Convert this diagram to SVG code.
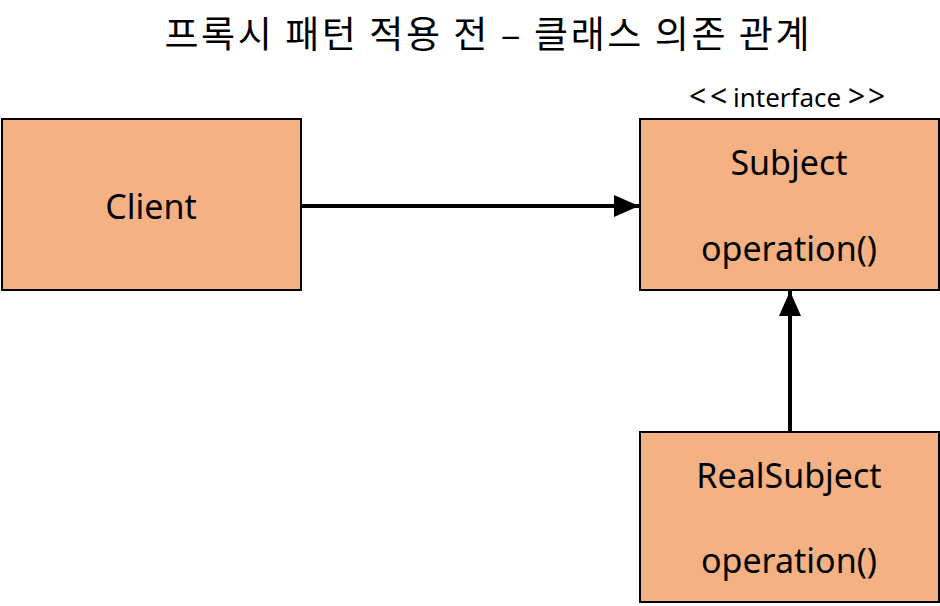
<svg xmlns="http://www.w3.org/2000/svg" width="940" height="606" viewBox="0 0 940 606">
<style>
.box{fill:#F4B183;stroke:#000;stroke-width:2}
.t{font-family:"Noto Sans","Open Sans",sans-serif;font-size:34px;fill:#000;text-anchor:middle}
.st{font-family:"Noto Sans","Open Sans",sans-serif;font-size:26px;fill:#000}
.br{font-size:30px}
.title{font-family:"Noto Sans CJK KR","Noto Sans",sans-serif;font-size:37px;fill:#000;text-anchor:middle}
.conn{stroke:#000;stroke-width:4;fill:none}
</style>
<defs>
<marker id="arr" markerUnits="userSpaceOnUse" markerWidth="26" markerHeight="22" refX="25" refY="11" orient="auto" viewBox="0 0 26 22">
<path d="M0,0 L25,11 L0,22 Z" fill="#000"/>
</marker>
</defs>
<text class="title" x="487" y="48" textLength="645" lengthAdjust="spacing">프록시 패턴 적용 전 – 클래스 의존 관계</text>
<g id="client">
<rect class="box" x="2" y="119" width="299" height="171"/>
<text class="t" x="151" y="219">Client</text>
</g>
<g id="subject">
<text class="st" y="107"><tspan class="br" x="689">&lt;</tspan><tspan class="br" x="710">&lt;</tspan><tspan x="733">interface</tspan><tspan class="br" x="848">&gt;</tspan><tspan class="br" x="868">&gt;</tspan></text>
<rect class="box" x="640" y="119" width="299" height="171"/>
<text class="t" x="789" y="175">Subject</text>
<text class="t" x="789" y="261">operation()</text>
</g>
<g id="realsubject">
<rect class="box" x="640" y="432" width="299" height="170"/>
<text class="t" x="789" y="488">RealSubject</text>
<text class="t" x="789" y="573">operation()</text>
</g>
<g id="connectors">
<line class="conn" x1="301" y1="206" x2="639" y2="206" marker-end="url(#arr)"/>
<line class="conn" x1="790" y1="432" x2="790" y2="291" marker-end="url(#arr)"/>
</g>
</svg>
